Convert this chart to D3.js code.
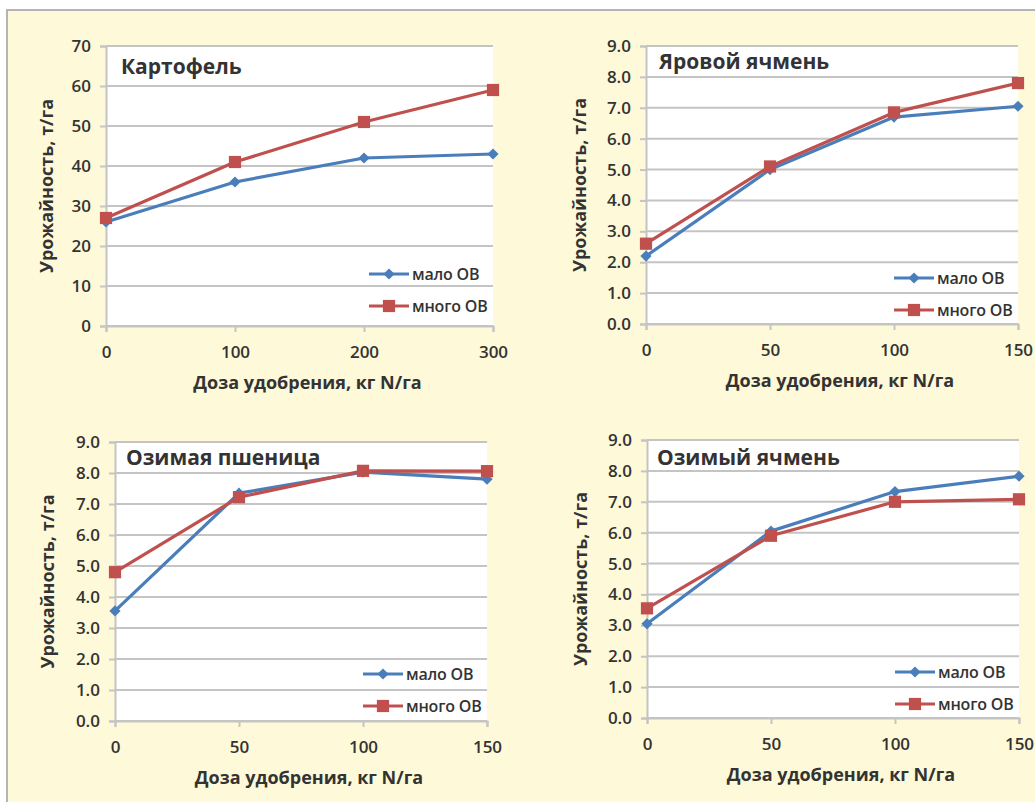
<!DOCTYPE html>
<html>
<head>
<meta charset="utf-8">
<script src="https://cdn.jsdelivr.net/npm/d3@7/dist/d3.min.js"></script>
<style>
  html, body { margin: 0; padding: 0; background: #ffffff; }
  svg { display: block; }
  text { font-family: "Open Sans", "Noto Sans", sans-serif; fill: #333333; }
</style>
</head>
<body>
<svg id="chart" width="1035" height="802"></svg>
<script>
// Nitrogen doses, kg N/ha
const dosePotato = [0, 100, 200, 300];
const doseGrain = [0, 50, 100, 150];

// Yield, t/ha — low / high organic matter (ОВ)
const potatoLow = [26, 36, 42, 43];
const potatoHigh = [27, 41, 51, 59];
const springBarleyLow = [2.2, 5.0, 6.7, 7.05];
const springBarleyHigh = [2.6, 5.1, 6.85, 7.8];
const winterWheatLow = [3.55, 7.35, 8.03, 7.8];
const winterWheatHigh = [4.8, 7.22, 8.07, 8.06];
const winterBarleyLow = [3.05, 6.05, 7.33, 7.83];
const winterBarleyHigh = [3.55, 5.9, 7.0, 7.08];

const cropTitles = ["Картофель", "Яровой ячмень", "Озимая пшеница", "Озимый ячмень"];
const seriesNames = ["мало ОВ", "много ОВ"];
const yTitle = "Урожайность, т/га";
const xTitle = "Доза удобрения, кг N/га";
const yTicksPotato = [0, 10, 20, 30, 40, 50, 60, 70];
const yTicksGrain = [0, 1, 2, 3, 4, 5, 6, 7, 8, 9];

const colorLow = "#4a7ebb";
const colorHigh = "#c0504d";

const svg = d3.select("#chart");

// cream page with a grey frame
svg.append("rect").attr("x", 7).attr("y", 10).attr("width", 1040).attr("height", 800)
  .attr("fill", "#fef9d8").attr("stroke", "#b4b4b4").attr("stroke-width", 2);

const panels = [
  { title: cropTitles[0], x: dosePotato, low: potatoLow, high: potatoHigh, yTicks: yTicksPotato, fmt: d3.format("d"),
    box: { l: 106, r: 493, t: 46, b: 326 }, yTitleDx: 59, titlePos: [121, 74], legendDy: [52, 20] },
  { title: cropTitles[1], x: doseGrain, low: springBarleyLow, high: springBarleyHigh, yTicks: yTicksGrain, fmt: d3.format(".1f"),
    box: { l: 646, r: 1018, t: 46, b: 324 }, yTitleDx: 66, titlePos: [659, 69], legendDy: [46, 14] },
  { title: cropTitles[2], x: doseGrain, low: winterWheatLow, high: winterWheatHigh, yTicks: yTicksGrain, fmt: d3.format(".1f"),
    box: { l: 115, r: 487, t: 442, b: 721 }, yTitleDx: 67, titlePos: [126, 465], legendDy: [47, 15] },
  { title: cropTitles[3], x: doseGrain, low: winterBarleyLow, high: winterBarleyHigh, yTicks: yTicksGrain, fmt: d3.format(".1f"),
    box: { l: 647, r: 1019, t: 440, b: 718 }, yTitleDx: 66, titlePos: [657, 465], legendDy: [46, 14] }
];

const diamond = d3.symbol().type(d3.symbolDiamond2).size(80);
const square = d3.symbol().type(d3.symbolSquare2).size(190);

panels.forEach(p => {
  const { l, r, t, b } = p.box;
  const g = svg.append("g");
  const x = d3.scaleLinear().domain(d3.extent(p.x)).range([l, r]);
  const y = d3.scaleLinear().domain([0, d3.max(p.yTicks)]).range([b, t]);

  // white plot area
  g.append("rect").attr("x", l).attr("y", t).attr("width", r - l).attr("height", b - t).attr("fill", "#ffffff");

  // horizontal gridlines
  g.append("g").selectAll("line").data(p.yTicks).join("line")
    .attr("x1", l).attr("x2", r).attr("y1", d => y(d)).attr("y2", d => y(d))
    .attr("stroke", "#c4c4c4").attr("stroke-width", 2);

  // y axis
  const yAxis = g.append("g").attr("transform", `translate(${l},0)`)
    .call(d3.axisLeft(y).tickValues(p.yTicks).tickFormat(p.fmt).tickSize(6).tickPadding(9));
  yAxis.select(".domain").attr("stroke", "#c4c4c4").attr("stroke-width", 2);
  yAxis.selectAll(".tick line").attr("stroke", "#c4c4c4").attr("stroke-width", 2);
  yAxis.selectAll(".tick text").attr("fill", "#383838").style("font-size", "17px").style("font-weight", 600)
    .style("font-family", "'Open Sans', sans-serif");

  // x axis
  const xAxis = g.append("g").attr("transform", `translate(0,${b})`)
    .call(d3.axisBottom(x).tickValues(p.x).tickFormat(d3.format("d")).tickSize(6).tickPadding(14));
  xAxis.select(".domain").attr("stroke", "#c4c4c4").attr("stroke-width", 2);
  xAxis.selectAll(".tick line").attr("stroke", "#c4c4c4").attr("stroke-width", 2);
  xAxis.selectAll(".tick text").attr("fill", "#383838").style("font-size", "17px").style("font-weight", 600)
    .style("font-family", "'Open Sans', sans-serif");

  // axis titles
  g.append("text").attr("x", (l + r) / 2 + 8).attr("y", b + 63).attr("text-anchor", "middle")
    .style("font-size", "18px").style("font-weight", 700).text(xTitle);
  g.append("text").attr("transform", `translate(${l - p.yTitleDx},${(t + b) / 2}) rotate(-90)`)
    .attr("text-anchor", "middle").attr("dy", "0.35em")
    .style("font-size", "18px").style("font-weight", 700).text(yTitle);

  // crop title
  g.append("text").attr("x", p.titlePos[0]).attr("y", p.titlePos[1])
    .style("font-size", "21px").style("font-weight", 700).attr("fill", "#1a1a1a").text(p.title);

  // series
  const line = d3.line().x((d, i) => x(p.x[i])).y(d => y(d));
  const series = [
    { vals: p.low, color: colorLow, sym: diamond },
    { vals: p.high, color: colorHigh, sym: square }
  ];
  series.forEach(s => {
    g.append("path").attr("d", line(s.vals)).attr("fill", "none")
      .attr("stroke", s.color).attr("stroke-width", 3.2).attr("stroke-linejoin", "round");
    g.append("g").selectAll("path").data(s.vals).join("path")
      .attr("transform", (d, i) => `translate(${x(p.x[i])},${y(d)})`)
      .attr("d", s.sym).attr("fill", s.color);
  });

  // legend
  series.forEach((s, k) => {
    const ly = b - p.legendDy[k];
    const lx0 = r - 124, lx1 = r - 84;
    g.append("line").attr("x1", lx0).attr("x2", lx1).attr("y1", ly).attr("y2", ly)
      .attr("stroke", s.color).attr("stroke-width", 3.2);
    g.append("path").attr("transform", `translate(${(lx0 + lx1) / 2},${ly})`).attr("d", s.sym).attr("fill", s.color);
    g.append("text").attr("x", lx1 + 3).attr("y", ly).attr("dy", "0.35em")
      .style("font-size", "16px").style("font-weight", 600).attr("fill", "#262626")
      .style("letter-spacing", "-0.2px").text(seriesNames[k]);
  });
});
</script>
</body>
</html>
